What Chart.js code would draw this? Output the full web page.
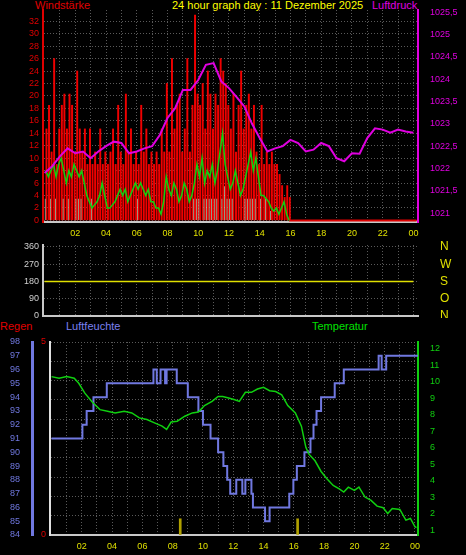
<!DOCTYPE html>
<html><head><meta charset="utf-8">
<script src="https://cdn.jsdelivr.net/npm/chart.js@4/dist/chart.umd.min.js"></script>
<style>
body{margin:0;background:#000;width:466px;height:555px;overflow:hidden;position:relative;font-family:"Liberation Sans",Arial,sans-serif}
canvas{position:absolute;left:0}
.t{position:absolute;font-size:11px;white-space:nowrap}
</style></head><body>
<div class="t" style="left:35px;top:-1px;color:#e00000">Windstärke</div>
<div class="t" style="left:172px;top:-1px;color:#ffff00">24 hour graph day : 11 Dezember 2025</div>
<div class="t" style="left:372px;top:-1px;color:#e000e0">Luftdruck</div>
<div class="t" style="left:0;top:320px;color:#e00000">Regen</div>
<div class="t" style="left:66px;top:320px;color:#7c80f0">Luftfeuchte</div>
<div class="t" style="left:312px;top:320px;color:#00e000">Temperatur</div>
<canvas id="wind" width="466" height="240" style="top:0"></canvas>
<canvas id="dir" width="466" height="80" style="top:238px"></canvas>
<canvas id="hum" width="466" height="215" style="top:338px"></canvas>
<script>
// 10-minute wind values, 00:00-16:00
const gusts = [
  14.7,18.5,11,26,9,14.7, 18.5,20.3,14.7,20.3,18.5,11, 24,14.7,11,14.7,9,14.7,
  9,11,9,14.7,9,11, 9,11,14.7,9,18.5,11, 9,20.3,11,14.7,9,11,
  9,18.5,11,14.7,9,11, 9,11,9,14.7,11,22, 11,26,14.7,18.5,20.3,11,
  14.7,26,11,18.5,33,20.3, 18.5,22,14.7,24,20.3,14.7, 20.3,18.5,26,24,22,18.5,
  14.7,20.3,11,18.5,24,14.7, 18.5,20.3,14.7,18.5,11,9, 18.5,9,11,9,11,9,
  9,7.4,5.6,3.7,5.6,3.7
];
const avgWind = [
  8,7,8,9,7,9, 10,8,6,8,7,9, 8,7,8,6,4,3, 2,2.5,3,4,6,4, 2,2,2.5,3,4,5, 4,5,3,4,5,6,
  5,6,5,4,5,3, 3,2,2,1,3,7, 5,4,6,5,3,4, 6,5,3,4,6,9, 7,10,6,8,7,9, 6,8,11,14,9,7,
  5,6,8,6,4,5, 7,9,11,8,10,7, 4,4,3.5,3,2,1.5, 2,1,2,3,1,0
];
const calmBars = [
  3.5,0,3.5,0,3.5,0, 0,3.5,0,3.5,0,0, 3.5,3.5,3.5,0,0,0, 3.5,0,0,0,0,0, 0,0,0,0,0,0, 0,0,0,0,0,0,
  3.5,0,0,0,0,0, 0,0,0,0,0,0, 0,0,0,0,0,0, 0,0,0,0,3.5,3.5, 3.5,0,3.5,3.5,3.5,3.5, 3.5,3.5,0,3.5,5.5,3.5,
  3.5,3.5,0,0,0,0, 3.5,3.5,3.5,3.5,3.5,0, 3.5,0,3.5,0,1.5,0, 0,0,0,0,0,0
];
// half-hourly pressure 00:00-24:00
const pressure = [
  1021.9,1022.05,1022.27,1022.45,1022.34,1022.38,1022.23,1022.38,1022.5,1022.6,1022.57,1022.34,
  1022.38,1022.45,1022.5,1022.75,1023.13,1023.35,1023.76,1023.76,1023.98,1024.32,1024.36,1023.95,
  1023.8,1023.6,1023.39,1023.0,1022.68,1022.38,1022.45,1022.5,1022.64,1022.57,1022.38,1022.42,
  1022.57,1022.5,1022.23,1022.16,1022.34,1022.33,1022.68,1022.9,1022.87,1022.8,1022.87,1022.83,1022.8
];
const dirHours = [0,4,8,12,16,20,24];
const direction = [180,180,180,180,180,180,180];
// humidity steps [hour, %]
const humHours = [0,2.04,2.32,2.77,3.65,6.73,6.95,7.2,7.5,7.6,8.27,9.0,9.7,10.0,10.5,11.0,11.35,11.6,11.8,12.2,12.6,12.8,13.2,13.3,14.1,14.4,15.7,15.97,16.2,16.7,17.1,17.3,17.5,17.8,18.7,19.3,21.6,21.8,22.1,24.2];
const humidity = [91,92,93,94,95,96,95,96,95,96,95,94,93,92,91,90,89,88,87,88,87,88,87,86,85,86,87,88,89,90,91,92,93,94,95,96,97,96,97,97];
const tempHours = [0,0.5,1,1.5,1.8,2.2,2.7,3.2,3.7,4.2,4.8,5.3,5.8,6.3,6.8,7.3,7.6,7.9,8.3,8.8,9.3,9.7,10.1,10.6,11,11.3,11.7,12.1,12.4,12.8,13.2,13.6,14,14.4,14.8,15.2,15.6,16.1,16.5,16.8,17,17.4,17.8,18.2,18.6,19,19.3,19.6,20,20.3,20.7,21.1,21.5,21.9,22.2,22.5,23,23.4,23.7,24,24.1];
const temperature = [10.3,10.2,10.3,10.2,9.9,9.3,8.75,8.3,8.2,8.1,8.2,8.1,7.8,7.7,7.5,7.3,7.1,7.55,7.6,7.9,8.1,8.15,8.55,8.8,9.1,9.1,9.0,8.9,8.8,9.35,9.35,9.55,9.65,9.45,9.4,9.2,8.55,8.1,7.3,6.0,5.6,5.2,4.55,4.1,3.7,3.5,3.3,3.6,3.4,3.6,3.0,2.8,2.45,2.35,2.0,2.3,2.25,1.6,1.7,1.2,1.15];
const rainHours = [8.5,16.25];
const rain = [0.42,0.42];

const F = {family:'"Liberation Sans", Arial, sans-serif', size:9};
const GRID = '#5a5a5a';
const hourTicks = s => { s.ticks = []; for (let h = 1; h <= 24; h++) s.ticks.push({value:h}); };
const hourLabel = v => v % 2 ? '' : String(v % 24).padStart(2,'0');
const xy = (xs, ys) => ys.map((y,i) => ({x:xs[i], y}));
const tenMin = ys => ys.map((y,i) => ({x:i/6 + 1/12, y}));
const fixW = w => s => { s.width = w; s.paddingTop = 0; s.paddingBottom = 0; };
const fixH = h => s => { s.height = h; s.paddingLeft = 0; s.paddingRight = 0; };
const steps = (a, b, d) => s => { s.ticks = []; for (let v = a; v <= b + 1e-9; v += d) s.ticks.push({value:+v.toFixed(2)}); };

function xScale(min, max, labels, h) {
  return {type:'linear', min, max, offset:false, afterBuildTicks:hourTicks, afterFit:fixH(h),
    grid:{color:GRID, drawTicks:false, offset:false}, border:{color:'#c8c8c8', width:2, dash:[1,2]},
    ticks:{color:'#e0e000', font:F, autoSkip:false, maxRotation:0, padding:6, display:labels, callback:hourLabel}};
}
function yScale(pos, min, max, tickFn, width, color, extra) {
  return Object.assign({position:pos, min, max, afterBuildTicks:tickFn, afterFit:fixW(width),
    grid:{display:false}, border:{color, width:2},
    ticks:{color, font:F, padding:4, autoSkip:false}}, extra);
}
const base = {responsive:false, animation:false, events:[], plugins:{legend:{display:false}, tooltip:{enabled:false}}};

new Chart(document.getElementById('wind'), {
  type:'bar',
  data:{datasets:[
    {type:'line', data:xy(pressure.map((_,i)=>i/2), pressure), yAxisID:'p', borderColor:'#e000e0', borderWidth:2, pointRadius:0, order:0},
    {type:'line', data:tenMin(avgWind), yAxisID:'w', borderColor:'#10d010', borderWidth:1.5, pointRadius:0, order:1},
    {type:'line', data:[{x:15.9,y:0},{x:24.2,y:0}], yAxisID:'w', borderColor:'#e00000', borderWidth:2, pointRadius:0, order:1},
    {data:tenMin(calmBars), yAxisID:'w', backgroundColor:'#c8e8c8', barPercentage:0.5, categoryPercentage:1, order:2},
    {data:tenMin(gusts), yAxisID:'w', backgroundColor:'#f00000', barPercentage:1, categoryPercentage:1, order:3}
  ]},
  options:{...base, layout:{padding:{top:10}},
    scales:{
      x:xScale(-0.1, 24.3, true, 18),
      w:yScale('left', -0.25, 33.8, steps(0, 32, 2), 43, '#e00000',
        {grid:{color:GRID, drawTicks:false}, border:{color:'#e00000', width:2, dash:[1,2]}}),
      p:yScale('right', 1020.8, 1025.55, steps(1021, 1025.5, 0.5), 48, '#e000e0',
        {ticks:{color:'#e000e0', font:F, padding:4, autoSkip:false, callback:v=>String(v).replace('.',',')}})
    }}
});

const compass = {0:'N',90:'O',180:'S',270:'W',360:'N'};
new Chart(document.getElementById('dir'), {
  type:'line',
  data:{datasets:[{data:xy(dirHours, direction), yAxisID:'d', borderColor:'#e0e000', borderWidth:1.5, pointRadius:0}]},
  options:{...base, layout:{padding:{top:7, bottom:0}},
    scales:{
      x:xScale(-0.1, 24.3, false, 2),
      d:yScale('left', 0, 370, steps(0, 360, 90), 43, '#d0d0d0',
        {grid:{color:GRID, drawTicks:false}, border:{color:'#c8c8c8', width:2, dash:[1,2]}}),
      c:yScale('right', 0, 370, steps(0, 360, 90), 48, '#e0e000',
        {border:{display:false}, ticks:{color:'#e0e000', font:{...F, size:12}, padding:14, autoSkip:false, callback:v=>compass[v]}})
    }}
});

new Chart(document.getElementById('hum'), {
  type:'line',
  data:{datasets:[
    {data:xy(tempHours, temperature), yAxisID:'t', borderColor:'#10d010', borderWidth:1.5, pointRadius:0},
    {data:xy(humHours, humidity), yAxisID:'h', stepped:true, borderColor:'#7078e0', borderWidth:2, pointRadius:0},
    {data:[{x:-0.1,y:0},{x:24.2,y:0}], yAxisID:'r', borderColor:'#ff0000', borderWidth:3, pointRadius:0},
    {type:'bar', data:xy(rainHours, rain), yAxisID:'r', backgroundColor:'#b0a000', barThickness:2}
  ]},
  options:{...base, layout:{padding:{top:4}},
    scales:{
      x:xScale(-0.1, 24.2, true, 18),
      r:yScale('left', 0, 5, steps(0, 5, 0.5), 18, '#e00000',
        {weight:0, grid:{color:GRID, drawTicks:false}, border:{color:'#e0e0e0', width:2, dash:[1,2]},
         ticks:{color:'#e00000', font:F, padding:4, autoSkip:false, callback:v=>(v===0||v===5)?v:''}}),
      h:yScale('left', 84, 98, steps(84, 98, 1), 32, '#7078e0', {weight:1, border:{color:'#7078e0', width:3}}),
      t:yScale('right', 0.7, 12.4, steps(1, 12, 1), 48, '#10d010')
    }}
});
</script>
</body></html>
